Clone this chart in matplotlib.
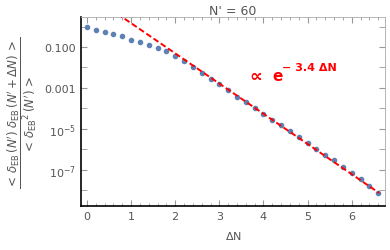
import matplotlib.pyplot as plt
import numpy as np

# data (log10 of correlation ratio)
dN = np.round(np.arange(0, 6.61, 0.2), 1)
log_corr = [-0.04, -0.16, -0.27, -0.35, -0.48, -0.64, -0.76, -0.92, -1.05, -1.21,
            -1.44, -1.70, -1.99, -2.27, -2.55, -2.82, -3.08, -3.45, -3.68, -3.98,
            -4.25, -4.56, -4.82, -5.11, -5.39, -5.67, -5.99, -6.27, -6.53, -6.84,
            -7.16, -7.44, -7.77, -8.11]
corr = 10.0 ** np.array(log_corr)

fit_amp = 44.0
fit_rate = 3.4
fit_x = np.linspace(0, 6.62, 200)

ytick_vals = [1e-1, 1e-3, 1e-5, 1e-7]
ytick_labels = ["0.100", "0.001", r"$10^{-5}$", r"$10^{-7}$"]

gray = "#555555"
fig = plt.figure(figsize=(3.9, 2.51), dpi=100)
ax = fig.add_axes([0.208, 0.175, 0.779, 0.753])

ax.plot(fit_x, fit_amp * np.exp(-fit_rate * fit_x), color="red", ls=(0, (3, 1.5)), lw=1.4, zorder=3)
ax.plot(dN, corr, "o", color="#5E81B5", ms=3, zorder=2)

ax.set_yscale("log")
ax.set_xlim(-0.13, 6.75)
ax.set_ylim(1.7e-9, 2.9)

ax.set_xticks(range(7))
ax.set_xticks(np.arange(0, 6.8, 0.2), minor=True)
ax.set_yticks(10.0 ** np.arange(-8, 1), minor=True)
ax.set_yticks(ytick_vals)
ax.set_yticklabels(ytick_labels)
ax.yaxis.set_minor_formatter(plt.NullFormatter())

ax.tick_params(which="both", direction="in", top=True, right=True, colors="#999999",
               labelcolor=gray, labelsize=8)
ax.tick_params(which="major", length=4)
ax.tick_params(which="minor", length=2)
ax.tick_params(axis="y", which="minor", length=4)

for s in ["left", "bottom"]:
    ax.spines[s].set_color("black")
    ax.spines[s].set_linewidth(1.2)
for s in ["top", "right"]:
    ax.spines[s].set_color("#aaaaaa")
    ax.spines[s].set_linewidth(0.6)

ax.set_title("N' = 60", color=gray, fontsize=9, pad=2)
ax.set_xlabel(r"$\Delta$N", color=gray, fontsize=8, labelpad=6)
ax.set_ylabel(r"$\dfrac{<\,\delta_{\mathrm{EB}}\,(N')\;\delta_{\mathrm{EB}}\,(N'+\Delta N)\,>}"
              r"{<\,\delta_{\mathrm{EB}}{}^{2}\,(N')\,>}$", color=gray, fontsize=8.5, labelpad=4)

# annotation: proportional to e^(-3.4 dN)
ax.text(3.68, 10 ** -2.4, "\u221d", color="red", fontweight="bold", fontsize=13,
        ha="left", va="center")
ax.text(4.19, 10 ** -2.38, "e", color="red", fontweight="bold", fontsize=11,
        ha="left", va="center")
ax.text(4.42, 10 ** -2.0, "\u2212 3.4 \u0394N", color="red", fontweight="bold", fontsize=8,
        ha="left", va="center")

fig.savefig("out.png", dpi=100)
